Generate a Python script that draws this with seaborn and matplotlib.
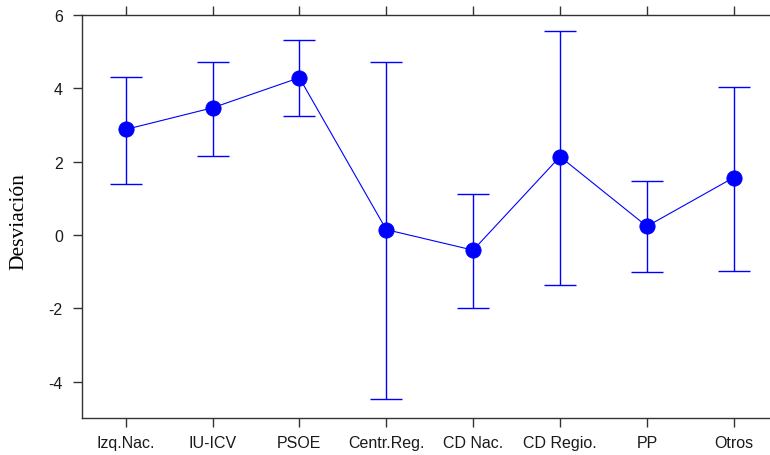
import matplotlib
matplotlib.use("Agg")
import matplotlib.pyplot as plt
import seaborn as sns
import pandas as pd
import numpy as np

# Party groups and mean deviation with lower/upper interval bounds
partidos = ["Izq.Nac.", "IU-ICV", "PSOE", "Centr.Reg.", "CD Nac.", "CD Regio.", "PP", "Otros"]
desviacion = [2.88, 3.47, 4.29, 0.15, -0.41, 2.14, 0.24, 1.57]
limite_inf = [1.40, 2.17, 3.24, -4.48, -1.98, -1.36, -1.01, -0.98]
limite_sup = [4.32, 4.73, 5.32, 4.73, 1.12, 5.57, 1.48, 4.04]
yticks = [-4, -2, 0, 2, 4, 6]

df = pd.DataFrame({"partido": partidos, "desviacion": desviacion,
                   "inf": limite_inf, "sup": limite_sup})

sns.set_theme(style="white")
plt.rcParams["font.family"] = ["Liberation Sans", "DejaVu Sans"]

fig = plt.figure(figsize=(7.70, 4.56), dpi=100)
ax = fig.add_axes([82.2 / 770, 37 / 456, 695 / 770, 403 / 456])

azul = "#0000FF"
pos = np.arange(len(partidos))
ax.errorbar(pos, df["desviacion"],
            yerr=[df["desviacion"] - df["inf"], df["sup"] - df["desviacion"]],
            fmt="none", ecolor=azul, elinewidth=1.0, capsize=11.2,
            capthick=1.0, zorder=2)

sns.pointplot(data=df, x="partido", y="desviacion", color=azul,
              markers="o", linestyles="-", errorbar=None,
              markersize=11, linewidth=0.8, ax=ax, zorder=3)

ax.set_xlim(-0.5, len(partidos) - 0.5)
ax.set_ylim(-4.985, 6.0)
ax.set_yticks(yticks)
ax.set_yticklabels([str(t) for t in yticks])
ax.set_xticks(pos)
ax.set_xticklabels(partidos)

ax.set_xlabel("")
ax.set_ylabel("Desviación", family=["Liberation Serif", "DejaVu Serif"],
              fontsize=15.5, color="black")
ax.yaxis.set_label_coords(-0.078, 0.489)

for side in ["left", "bottom", "top"]:
    ax.spines[side].set_visible(True)
    ax.spines[side].set_color("#333333")
    ax.spines[side].set_linewidth(1.0)
ax.spines["right"].set_visible(False)

ax.tick_params(axis="x", which="both", bottom=True, top=True, direction="out",
               length=6.5, width=1.0, color="#333333", labelsize=11.5,
               labelcolor="#1a1a1a", pad=6)
ax.tick_params(axis="y", which="both", left=True, right=False, direction="out",
               length=6.5, width=1.0, color="#333333", labelsize=11.5,
               labelcolor="#1a1a1a", pad=7.5)
ax.grid(False)

fig.savefig("out.png", dpi=100)
